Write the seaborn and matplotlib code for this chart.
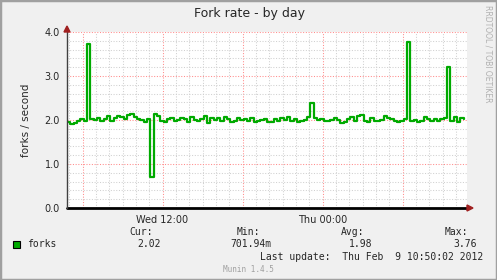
import numpy as np
import pandas as pd
import matplotlib
matplotlib.use("Agg")
import matplotlib.pyplot as plt
import seaborn as sns
from matplotlib.patches import Rectangle, Polygon

# ---- data ----
title = "Fork rate - by day"
ylabel = "forks / second"
series_name = "forks"
hours_step = 0.25  # hours between samples; window starts Wed 04:50
forks = [
    1.95, 1.92, 1.94, 1.98, 2.03, 1.98, 3.72, 2.02, 2.00, 2.05,
    1.97, 2.03, 2.08, 1.98, 2.05, 2.10, 2.07, 2.03, 2.12, 2.13,
    2.06, 2.02, 2.00, 1.95, 2.02, 0.70, 2.13, 2.08, 1.97, 1.95,
    2.02, 2.04, 1.98, 2.00, 2.05, 2.02, 1.95, 2.07, 2.01, 1.97,
    2.03, 2.08, 1.93, 2.05, 2.00, 2.04, 1.97, 2.06, 2.03, 1.95,
    1.98, 2.05, 2.00, 2.03, 1.98, 2.04, 1.96, 1.97, 2.00, 2.03,
    1.96, 1.95, 2.02, 1.98, 2.04, 2.00, 2.07, 1.98, 2.03, 1.95,
    1.97, 1.99, 2.06, 2.38, 2.05, 2.00, 2.02, 1.97, 1.98, 2.01,
    2.05, 2.00, 1.94, 1.96, 2.02, 2.06, 1.98, 2.10, 2.12, 1.98,
    1.95, 2.05, 1.97, 1.98, 1.99, 2.08, 2.04, 2.03, 1.97, 1.95,
    1.97, 2.03, 3.78, 1.98, 2.00, 1.96, 1.98, 2.06, 2.02, 1.98,
    2.03, 1.97, 2.03, 2.05, 3.20, 1.98, 2.06, 1.96, 2.05, 2.02,
]
x_major_hours = [1 + 10/60, 7 + 10/60, 13 + 10/60, 19 + 10/60, 25 + 10/60]
x_major_labels = ["", "Wed 12:00", "", "Thu 00:00", ""]
y_ticks = [0.0, 1.0, 2.0, 3.0, 4.0]
y_tick_labels = ["0.0", "1.0", "2.0", "3.0", "4.0"]
stat_headers = ["Cur:", "Min:", "Avg:", "Max:"]
stat_values = ["2.02", "701.94m", "1.98", "3.76"]
last_update = "Last update:  Thu Feb  9 10:50:02 2012"
credit = "RRDTOOL / TOBI OETIKER"
version = "Munin 1.4.5"

df = pd.DataFrame({"h": np.arange(len(forks)) * hours_step, "v": forks})

W, H = 497, 280
sns.set_style("white")
plt.rcParams["font.family"] = ["DejaVu Sans"]
fig = plt.figure(figsize=(W / 100, H / 100), dpi=100, facecolor="#F0F0F0")

L, R, T, B = 67, 467, 32, 208
ax = fig.add_axes([L / W, 1 - B / H, (R - L) / W, (B - T) / H])
ax.set_facecolor("white")
xmax = 30.0
ax.set_xlim(0, xmax)
ax.set_ylim(0, 4.0)

ax.set_xticks(x_major_hours)
ax.set_xticklabels(x_major_labels, fontsize=7)
ax.set_xticks(np.arange(10/60, xmax, 1.0), minor=True)
ax.set_yticks(y_ticks)
ax.set_yticklabels(y_tick_labels, fontsize=7)
ax.set_yticks(np.round(np.arange(0.2, 4.0, 0.2), 6), minor=True)
ax.tick_params(axis="both", which="both", length=2, width=0.8, color="#404040", pad=3)
ax.set_axisbelow(True)
dots = (0, (1, 1.6))
ax.grid(which="minor", color="#d0d0d0", lw=0.75, ls=dots)
ax.grid(which="major", color="#ff8c8c", lw=0.75, ls=dots)

sns.lineplot(data=df, x="h", y="v", ax=ax, color="#00aa00", lw=1.6,
             drawstyle="steps-post", zorder=3, legend=False)

for s in ax.spines.values():
    s.set_visible(False)
ax.axhline(0, color="black", lw=2, zorder=4, clip_on=False)
ax.axvline(0, color="#404040", lw=1, zorder=4, clip_on=False)
ax.set_xlabel("")
ax.set_ylabel(ylabel, fontsize=7.5, labelpad=10)

# arrows
fig.patches.append(Polygon([[(R) / W, 1 - (B - 3) / H], [(R) / W, 1 - (B + 3) / H],
                            [(R + 6) / W, 1 - B / H]], closed=True,
                           transform=fig.transFigure, color="#a02020"))
fig.patches.append(Polygon([[(L - 3) / W, 1 - (T) / H], [(L + 3) / W, 1 - (T) / H],
                            [L / W, 1 - (T - 6) / H]], closed=True,
                           transform=fig.transFigure, color="#a02020"))

def fx(x):
    return x / W

def fy(y):
    return 1 - y / H

fig.text(fx(250), fy(14), title, ha="center", va="center", fontsize=9)
fig.text(fx(488), fy(5), credit, rotation=270, ha="center", va="top",
         fontsize=5.5, color="#b0b0b0")

mono = "DejaVu Sans Mono"
fig.patches.append(Rectangle((fx(13), fy(248)), 7 / W, 7 / H, transform=fig.transFigure,
                             facecolor="#00aa00", edgecolor="black", lw=0.8))
fig.text(fx(27), fy(244), series_name, family=mono, fontsize=7, va="center")
hx = [153, 260, 364, 468]
vx = [161, 271, 372, 477]
for i in range(4):
    fig.text(fx(hx[i]), fy(232), stat_headers[i], family=mono, fontsize=7,
             ha="right", va="center")
    fig.text(fx(vx[i]), fy(244), stat_values[i], family=mono, fontsize=7,
             ha="right", va="center")
fig.text(fx(483), fy(257), last_update, family=mono, fontsize=7, ha="right", va="center")
fig.text(fx(248), fy(269), version, family=mono, fontsize=5.5, ha="center",
         va="center", color="#a0a0a0")

# frame border
fig.patches.append(Rectangle((0, 0), 1, 1, transform=fig.transFigure, fill=False,
                             edgecolor="#a0a0a0", lw=2.5))

fig.savefig("out.png", dpi=100, facecolor=fig.get_facecolor())
